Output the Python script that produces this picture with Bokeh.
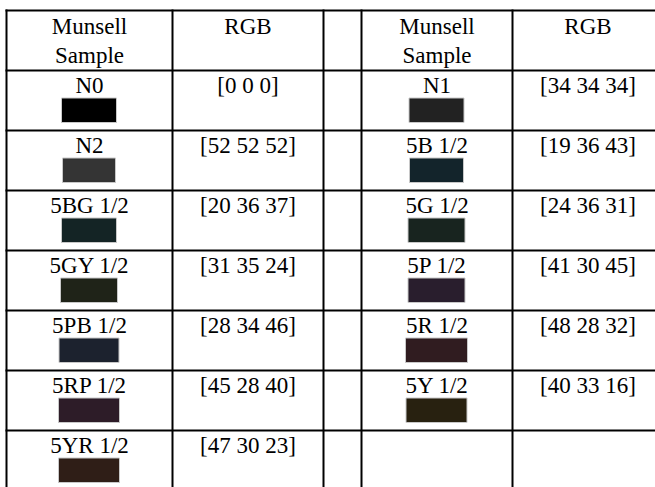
from bokeh.plotting import figure
from bokeh.models import Range1d
from bokeh.core.properties import value
from bokeh.embed import file_html
from bokeh.resources import INLINE

# ---- data ----
header_sample = ["Munsell", "Sample"]
header_rgb = "RGB"
left_names = ["N0", "N2", "5BG 1/2", "5GY 1/2", "5PB 1/2", "5RP 1/2", "5YR 1/2"]
left_rgb = [[0, 0, 0], [52, 52, 52], [20, 36, 37], [31, 35, 24],
            [28, 34, 46], [45, 28, 40], [47, 30, 23]]
right_names = ["N1", "5B 1/2", "5G 1/2", "5P 1/2", "5R 1/2", "5Y 1/2"]
right_rgb = [[34, 34, 34], [19, 36, 43], [24, 36, 31], [41, 30, 45],
             [48, 28, 32], [40, 33, 16]]

# ---- layout / style (pixel space) ----
W, H = 655, 487
col_edges = [6, 172, 323, 361, 512, 663]
row_top0 = 10
row_h = 60
n_rows = 1 + max(len(left_names), len(right_names))
row_edges = [row_top0 + i * row_h for i in range(n_rows + 1)]
FONT = value("Liberation Serif")
FS = "23px"
left_sw_w = [55, 53, 55, 57, 60, 61, 61]
right_sw_w = [55, 54, 57, 57, 62, 61]
SW_H = 24.5
LABEL_DY = 14.5
HEAD_DY = (16, 44.5)

p = figure(width=W, height=H, output_backend="svg", toolbar_location=None,
           x_range=Range1d(0, W), y_range=Range1d(H, 0),
           x_axis_type=None, y_axis_type=None, min_border=0,
           background_fill_color="white", border_fill_color="white")
p.outline_line_color = None
p.grid.visible = False

# grid lines
hx0, hx1, hy = [], [], []
for y in row_edges:
    if y <= H:
        hx0.append(col_edges[0] - 1); hx1.append(W); hy.append(y)
p.segment(x0=hx0, y0=hy, x1=hx1, y1=hy, line_color="black", line_width=2)
vx = [c for c in col_edges if c <= W]
p.segment(x0=vx, y0=[row_edges[0] - 1] * len(vx), x1=vx, y1=[H] * len(vx),
          line_color="black", line_width=2)

def center(i):
    return (col_edges[i] + col_edges[i + 1]) / 2

# header texts
tx, ty, tt = [], [], []
for ci in (0, 3):
    c = center(ci)
    tx += [c, c]; ty += [row_top0 + HEAD_DY[0], row_top0 + HEAD_DY[1]]
    tt += header_sample
    tx.append(center(ci + 1)); ty.append(row_top0 + HEAD_DY[0]); tt.append(header_rgb)

sx, sy, sw, sc = [], [], [], []
for ci, names, rgbs, widths in ((0, left_names, left_rgb, left_sw_w),
                                (3, right_names, right_rgb, right_sw_w)):
    for r, (nm, rgb, w) in enumerate(zip(names, rgbs, widths)):
        top = row_edges[r + 1]
        tx.append(center(ci)); ty.append(top + LABEL_DY); tt.append(nm)
        tx.append(center(ci + 1)); ty.append(top + LABEL_DY)
        tt.append("[" + " ".join(str(v) for v in rgb) + "]")
        sx.append(center(ci) - 0.5); sy.append(top + 27.5 + SW_H / 2)
        sw.append(w)
        sc.append("#%02x%02x%02x" % tuple(rgb))

p.rect(x=sx, y=sy, width=sw, height=SW_H, fill_color=sc,
       line_color="#c8c8c8", line_width=1)
p.text(x=tx, y=ty, text=tt, text_font=FONT, text_font_size=FS,
       text_align="center", text_baseline="alphabetic", text_color="black")

open("out.html", "w").write(file_html(p, INLINE))
